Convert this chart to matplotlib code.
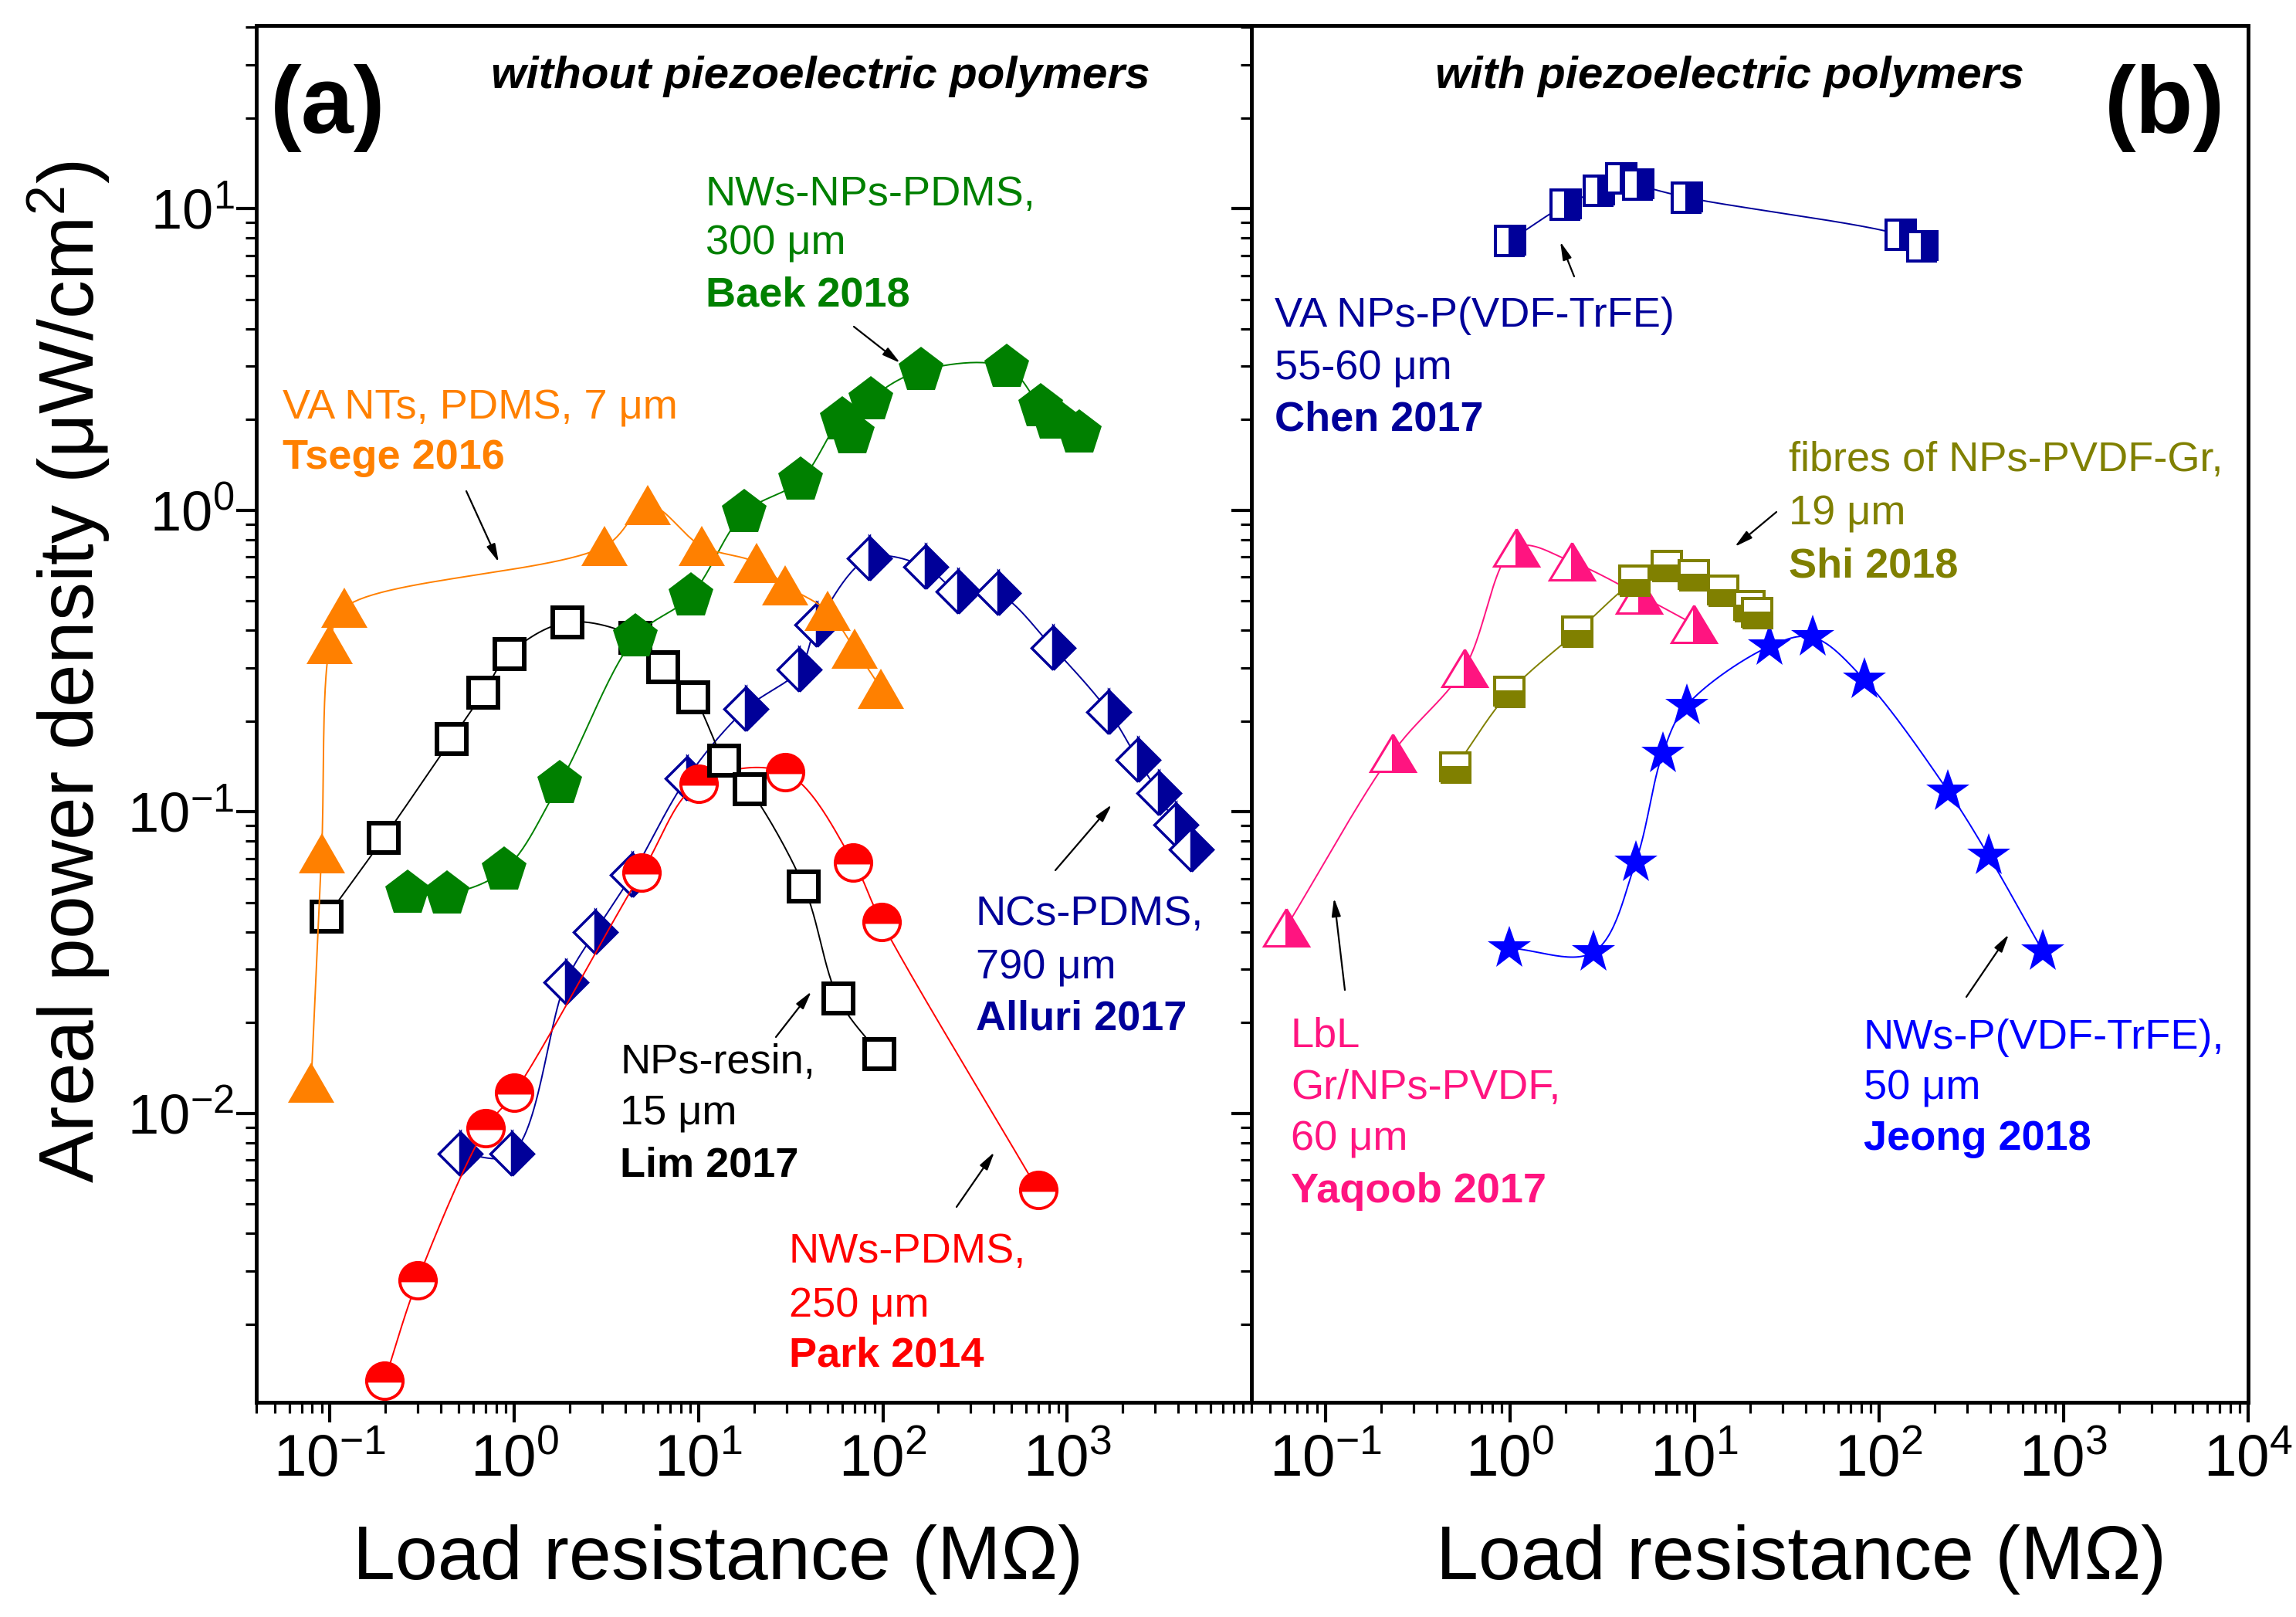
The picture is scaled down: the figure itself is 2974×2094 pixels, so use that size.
import numpy as np
import matplotlib
matplotlib.use("Agg")
import matplotlib.pyplot as plt
from matplotlib.markers import MarkerStyle
from matplotlib.transforms import Affine2D
from matplotlib.patches import FancyArrowPatch
from matplotlib.ticker import LogLocator, FixedLocator, FuncFormatter, NullFormatter

plt.rcParams['font.family'] = ['Liberation Sans', 'DejaVu Sans']
plt.rcParams['mathtext.fontset'] = 'custom'
plt.rcParams['mathtext.rm'] = 'Liberation Sans'
plt.rcParams['mathtext.it'] = 'Liberation Sans:italic'
plt.rcParams['mathtext.bf'] = 'Liberation Sans:bold'

# ---------------- data (load resistance in MOhm, areal power density in uW/cm2) ----------------
# panel (a): without piezoelectric polymers
tsege_R = [0.079, 0.090, 0.100, 0.120, 3.1, 5.3, 10.4, 20.6, 29.4, 50, 70, 98]
tsege_P = [0.0126, 0.073, 0.36, 0.475, 0.76, 1.04, 0.76, 0.67, 0.565, 0.463, 0.348, 0.256]

lim_R = [0.096, 0.196, 0.457, 0.68, 0.94, 1.94, 4.55, 6.4, 9.4, 13.8, 18.9, 37.3, 57.4, 95.5]
lim_P = [0.0448, 0.082, 0.174, 0.248, 0.334, 0.425, 0.378, 0.302, 0.24, 0.148, 0.119, 0.0564, 0.024, 0.0157]

baek_R = [0.264, 0.432, 0.88, 1.76, 4.55, 9.06, 17.7, 35.8, 60.3, 68.4, 86.3, 161, 470, 716, 845, 1160]
baek_P = [0.0535, 0.0533, 0.064, 0.124, 0.379, 0.52, 0.978, 1.256, 1.99, 1.79, 2.32, 2.9, 2.98, 2.2, 2.0, 1.8]

alluri_R = [0.507, 0.966, 1.90, 2.75, 4.35, 8.63, 18.0, 35.2, 44, 84.4, 170, 255, 421, 838, 1686, 2417, 3133, 3870, 4720]
alluri_P = [0.00733, 0.00733, 0.0272, 0.040, 0.0618, 0.129, 0.219, 0.296, 0.417, 0.694, 0.649, 0.538, 0.53, 0.35, 0.214, 0.149, 0.115, 0.0905, 0.075]

park_R = [0.198, 0.299, 0.697, 1.0, 4.92, 10, 29.4, 69.2, 98.5, 695]
park_P = [0.0013, 0.0028, 0.0089, 0.0117, 0.063, 0.124, 0.135, 0.068, 0.043, 0.00556]

# panel (b): with piezoelectric polymers
chen_R = [1.0, 2.0, 3.03, 4.0, 4.97, 9.06, 130.6, 171]
chen_P = [7.83, 10.3, 11.5, 12.6, 12.0, 10.9, 8.18, 7.52]

yaqoob_R = [0.0612, 0.232, 0.566, 1.08, 2.16, 5.0, 9.9]
yaqoob_P = [0.0413, 0.157, 0.299, 0.753, 0.675, 0.524, 0.419]

shi_R = [0.505, 0.993, 2.31, 4.73, 7.06, 9.9, 14.3, 19.8, 21.8]
shi_P = [0.140, 0.249, 0.395, 0.582, 0.652, 0.61, 0.541, 0.48, 0.456]

jeong_R = [0.993, 2.83, 4.8, 6.73, 9.07, 25.4, 43.6, 83, 237, 393, 773]
jeong_P = [0.0353, 0.0342, 0.068, 0.156, 0.225, 0.353, 0.379, 0.275, 0.117, 0.0714, 0.0344]

x_major_a = [0.1, 1, 10, 100, 1000]
x_major_b = [0.1, 1, 10, 100, 1000, 10000]
y_major = [0.01, 0.1, 1, 10]

# ---------------- styling ----------------
W, H = 2974, 2094
fig = plt.figure(figsize=(W / 100, H / 100), dpi=100)

ORANGE = '#FF8000'
GREEN = '#008000'
NAVY = '#000099'
RED = '#FF0000'
BLUE = '#0000FF'
OLIVE = '#808000'
PINK = '#FF1480'

top_px, bot_px = 33, 1816
xl, xm, xr = 332, 1621, 2912
axA = fig.add_axes([xl / W, 1 - bot_px / H, (xm - xl) / W, (bot_px - top_px) / H])
axB = fig.add_axes([xm / W, 1 - bot_px / H, (xr - xm) / W, (bot_px - top_px) / H])

XLIM = (10 ** -1.4, 1e4)
YLIM = (0.0011, 40.5)


def smooth(x, y, n=30):
    """Centripetal Catmull-Rom curve through the data points in log-log space."""
    k = 390.3 / 239.1
    P = np.column_stack([np.log10(x), np.log10(y) * k])
    P = np.vstack([2 * P[0] - P[1], P, 2 * P[-1] - P[-2]])
    segs = []
    for i in range(1, len(P) - 2):
        p0, p1, p2, p3 = P[i - 1], P[i], P[i + 1], P[i + 2]

        def tj(ti, a, b):
            return ti + max(np.linalg.norm(b - a), 1e-6) ** 0.5
        t0 = 0.0
        t1 = tj(t0, p0, p1)
        t2 = tj(t1, p1, p2)
        t3 = tj(t2, p2, p3)
        t = np.linspace(t1, t2, n)[:, None]
        A1 = (t1 - t) / (t1 - t0) * p0 + (t - t0) / (t1 - t0) * p1
        A2 = (t2 - t) / (t2 - t1) * p1 + (t - t1) / (t2 - t1) * p2
        A3 = (t3 - t) / (t3 - t2) * p2 + (t - t2) / (t3 - t2) * p3
        B1 = (t2 - t) / (t2 - t0) * A1 + (t - t0) / (t2 - t0) * A2
        B2 = (t3 - t) / (t3 - t1) * A2 + (t - t1) / (t3 - t1) * A3
        C = (t2 - t) / (t2 - t1) * B1 + (t - t1) / (t2 - t1) * B2
        segs.append(C)
    C = np.vstack(segs)
    return 10 ** C[:, 0], 10 ** (C[:, 1] / k)


def series(ax, R, P, color, z, **mk):
    sx, sy = smooth(R, P)
    ax.plot(sx, sy, '-', color=color, lw=1.4, zorder=z)
    ax.plot(R, P, ls='none', zorder=z + 0.5, **mk)


tri = Affine2D().scale(1.18, 1.0)

# panel (a)
series(axA, alluri_R, alluri_P, NAVY, 2,
       marker=MarkerStyle('D', fillstyle='right'), ms=29, mfc=NAVY, mfcalt='white',
       mec=NAVY, mew=2.5)
series(axA, park_R, park_P, RED, 3,
       marker=MarkerStyle('o', fillstyle='top'), ms=34, mfc=RED, mfcalt='white',
       mec=RED, mew=2.8)
series(axA, lim_R, lim_P, 'black', 4,
       marker='s', ms=27, mfc='white', mec='black', mew=4.3)
series(axA, baek_R, baek_P, GREEN, 5,
       marker='p', ms=44, mfc=GREEN, mec=GREEN, mew=0)
series(axA, tsege_R, tsege_P, ORANGE, 6,
       marker=MarkerStyle('^', transform=tri), ms=37, mfc=ORANGE, mec=ORANGE, mew=0)

# panel (b)
series(axB, jeong_R, jeong_P, BLUE, 2,
       marker='*', ms=42, mfc=BLUE, mec=BLUE, mew=0)
series(axB, yaqoob_R, yaqoob_P, PINK, 3,
       marker=MarkerStyle('^', fillstyle='right', transform=tri), ms=35, mfc=PINK,
       mfcalt='white', mec=PINK, mew=2.2)
series(axB, shi_R, shi_P, OLIVE, 4,
       marker=MarkerStyle('s', fillstyle='bottom'), ms=28, mfc=OLIVE, mfcalt='white',
       mec=OLIVE, mew=2.9)
series(axB, chen_R, chen_P, NAVY, 5,
       marker=MarkerStyle('s', fillstyle='right'), ms=28, mfc=NAVY, mfcalt='white',
       mec=NAVY, mew=2.9)

fmt = FuncFormatter(lambda v, p: r'$\mathregular{10^{%d}}$' % int(round(np.log10(v))))

for ax, xt in ((axA, x_major_a), (axB, x_major_b)):
    ax.set_xscale('log')
    ax.set_yscale('log')
    ax.set_xlim(*XLIM)
    ax.set_ylim(*YLIM)
    for s in ax.spines.values():
        s.set_linewidth(3.5)
    ax.xaxis.set_major_locator(FixedLocator(xt))
    ax.xaxis.set_minor_locator(LogLocator(base=10, subs=np.arange(2, 10), numticks=50))
    ax.xaxis.set_major_formatter(fmt)
    ax.xaxis.set_minor_formatter(NullFormatter())
    ax.yaxis.set_major_locator(FixedLocator(y_major))
    ax.yaxis.set_minor_locator(LogLocator(base=10, subs=np.arange(2, 10), numticks=50))
    ax.yaxis.set_major_formatter(fmt)
    ax.yaxis.set_minor_formatter(NullFormatter())
    ax.tick_params(axis='x', which='major', direction='out', length=18.5, width=3,
                   labelsize=55, pad=11, top=False)
    ax.tick_params(axis='x', which='minor', direction='out', length=10, width=2.3, top=False)
    ax.tick_params(axis='y', which='major', direction='out', length=18.5, width=3,
                   labelsize=52, pad=2, right=False)
    ax.tick_params(axis='y', which='minor', direction='out', length=10, width=2.3, right=False)

axB.tick_params(axis='y', which='both', labelleft=False)


def ftext(x, y, s, color='black', size=39, bold=False, italic=False, **kw):
    fig.text(x / W, 1 - y / H, s, color=color, fontsize=size,
             fontweight='bold' if bold else 'normal',
             fontstyle='italic' if italic else 'normal',
             ha=kw.pop('ha', 'left'), va=kw.pop('va', 'baseline'), **kw)


def block(x, ys, lines, color):
    for y, (s, b) in zip(ys, lines):
        ftext(x, y, s, color=color, bold=b)


def arrow(x0, y0, x1, y1):
    fig.add_artist(FancyArrowPatch((x0 / W, 1 - y0 / H), (x1 / W, 1 - y1 / H),
                                   transform=fig.transFigure,
                                   arrowstyle='-|>,head_length=1.4,head_width=0.35',
                                   mutation_scale=10, lw=1.6, color='black',
                                   shrinkA=0, shrinkB=0))


# panel labels and headers
ftext(350, 172, '(a)', size=88, bold=True)
ftext(2726, 172, '(b)', size=88, bold=True)
ftext(636, 114, 'without piezoelectric polymers', size=42, bold=True, italic=True)
ftext(1859, 114, 'with piezoelectric polymers', size=42, bold=True, italic=True)

# axis titles
ftext(930, 2045, 'Load resistance (MΩ)', size=71, ha='center')
ftext(2333, 2045, 'Load resistance (MΩ)', size=71, ha='center')
ftext(90, 870, 'Areal power density (μW/cm$^{2}$)', size=72, ha='center', va='center',
      rotation=90)

# annotations, panel (a)
block(914, [266, 330, 396], [('NWs-NPs-PDMS,', False), ('300 μm', False), ('Baek 2018', True)], GREEN)
arrow(1106, 423, 1166, 470)
block(366, [542, 607], [('VA NTs, PDMS, 7 μm', False), ('Tsege 2016', True)], ORANGE)
arrow(604, 636, 646, 728)
block(803, [1390, 1456, 1523], [('NPs-resin,', False), ('15 μm', False), ('Lim 2017', True)], 'black')
arrow(1005, 1343, 1051, 1284)
block(1022, [1635, 1705, 1769], [('NWs-PDMS,', False), ('250 μm', False), ('Park 2014', True)], RED)
arrow(1239, 1563, 1288, 1492)
block(1264, [1198, 1267, 1334], [('NCs-PDMS,', False), ('790 μm', False), ('Alluri 2017', True)], NAVY)
arrow(1367, 1127, 1440, 1042)

# annotations, panel (b)
block(1651, [423, 491, 557], [('VA NPs-P(VDF-TrFE)', False), ('55-60 μm', False), ('Chen 2017', True)], NAVY)
arrow(2039, 358, 2021, 313)
block(2317, [610, 679, 748], [('fibres of NPs-PVDF-Gr,', False), ('19 μm', False), ('Shi 2018', True)], OLIVE)
arrow(2301, 663, 2247, 708)
block(1672, [1356, 1423, 1489, 1557], [('LbL', False), ('Gr/NPs-PVDF,', False), ('60 μm', False), ('Yaqoob 2017', True)], PINK)
arrow(1742, 1282, 1728, 1163)
block(2414, [1358, 1423, 1489], [('NWs-P(VDF-TrFE),', False), ('50 μm', False), ('Jeong 2018', True)], BLUE)
arrow(2547, 1291, 2602, 1210)

fig.savefig('out.png', dpi=100)
